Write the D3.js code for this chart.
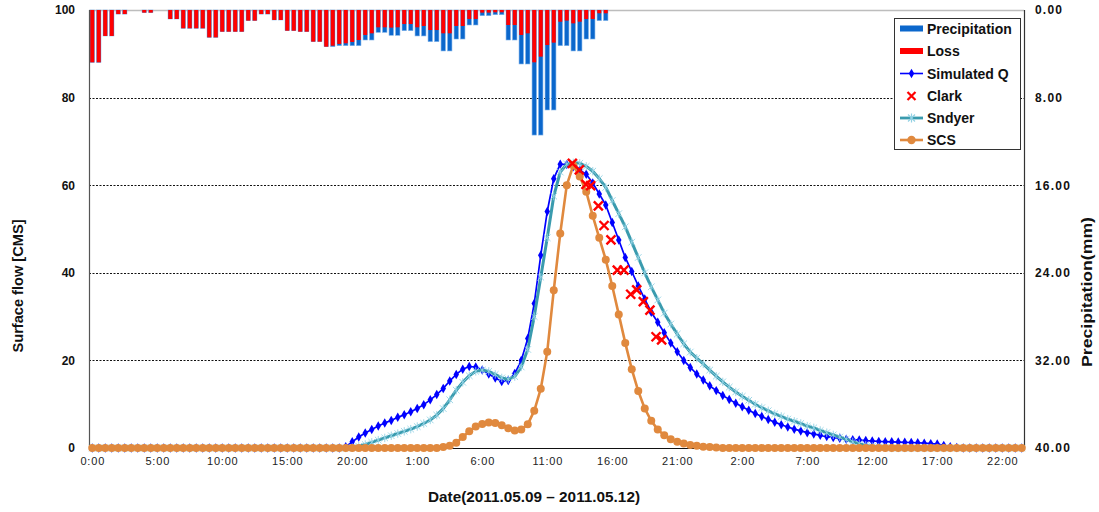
<!DOCTYPE html>
<html>
<head>
<meta charset="utf-8">
<script src="https://cdn.jsdelivr.net/npm/d3@7"></script>
<style>
  html, body { margin: 0; padding: 0; background: #ffffff; }
  svg { display: block; }
</style>
</head>
<body>
<svg id="chart" width="1099" height="512"></svg>
<script>
// ---------------- DATA ----------------
// half-hour steps starting 2011.05.09 0:00 (index i -> i*0.5 hours)
const tickHours = [0, 5, 10, 15, 20, 25, 30, 35, 40, 45, 50, 55, 60, 65, 70];
const tickLabels = ["0:00","5:00","10:00","15:00","20:00","1:00","6:00","11:00","16:00","21:00","2:00","7:00","12:00","17:00","22:00"];

// Precipitation (mm), per half hour (secondary axis, reversed)
const precipitation = [4.78,4.78,2.37,2.37,0.37,0.37,0,0,0.24,0.24,
  0,0,0.82,0.82,1.67,1.67,1.67,1.67,2.50,2.50,
  1.98,1.98,1.98,1.98,0.97,0.97,0.37,0.37,0.91,0.91,
  1.89,1.89,1.98,1.98,2.89,2.89,3.35,3.35,3.26,3.26,
  3.26,3.26,2.74,2.74,2.04,2.04,2.31,2.31,1.89,1.89,
  2.37,2.37,2.89,2.89,3.74,3.74,2.65,2.65,1.37,1.37,
  0.52,0.52,0.43,0.43,2.74,2.74,4.93,4.93,11.42,11.42,
  9.13,9.13,3.26,3.26,3.74,3.74,2.65,2.65,0.97,0.97];

// Loss (mm)
const loss = [4.78,4.78,2.37,2.37,0.37,0.37,0,0,0.24,0.24,
  0,0,0.82,0.82,1.67,1.67,1.67,1.67,2.50,2.50,
  1.98,1.98,1.98,1.98,0.97,0.97,0.37,0.37,0.91,0.91,
  1.89,1.89,1.98,1.98,2.89,2.89,3.35,3.26,3.10,3.04,
  2.92,2.74,2.28,2.13,1.58,1.58,1.61,1.58,1.28,1.28,
  1.58,1.46,1.83,1.83,2.13,2.13,1.46,1.46,0.82,0.82,
  0.24,0.24,0.21,0.21,1.37,1.37,2.28,2.13,4.78,4.26,
  3.20,2.98,1.07,0.97,1.22,1.07,0.82,0.82,0.30,0.30];

// Simulated Q (CMS), 144 half-hour values
const simulatedQ = [0,0,0,0,0,0,0,0,0,0,
  0,0,0,0,0,0,0,0,0,0,
  0,0,0,0,0,0,0,0,0,0,
  0,0,0,0,0,0,0,0,0,0.3,
  1.4,2.5,3.4,4.2,5.0,5.7,6.3,7.0,7.6,8.3,
  9.0,9.9,11.0,12.2,13.6,15.3,16.8,18.0,18.6,18.5,
  17.8,16.9,16.0,15.2,15.4,17.0,20.0,25.0,33.0,44.0,
  54.0,61.5,64.8,64.7,64.2,63.5,62.5,60.5,58.0,55.5,
  51.5,47.5,43.5,40.3,37.0,34.0,31.0,28.7,26.3,24.0,
  22.0,20.0,18.4,16.9,15.5,14.2,13.1,12.0,11.1,10.2,
  9.4,8.6,7.9,7.2,6.5,5.9,5.3,4.8,4.3,3.9,
  3.5,3.2,2.9,2.6,2.4,2.2,2.0,1.9,1.8,1.7,
  1.6,1.5,1.45,1.4,1.35,1.3,1.25,1.2,1.1,1.0,
  0.9,0.6,0.3,0.1,0,0,0,0,0,0,
  0,0,0,0];

// Clark (observed points, hours from start, CMS)
const clarkHours = [36.93,37.47,37.98,38.34,38.93,39.37,39.9,40.39,40.9,41.42,41.88,42.39,42.9,43.37,43.8];
const clarkQ = [65.0,63.5,60.2,59.9,55.3,50.8,47.5,40.6,40.6,35.1,36.1,33.4,31.5,25.4,24.7];

// Snyder (CMS)
const snyder = [0,0,0,0,0,0,0,0,0,0,
  0,0,0,0,0,0,0,0,0,0,
  0,0,0,0,0,0,0,0,0,0,
  0,0,0,0,0,0,0,0,0,0,
  0.1,0.4,0.8,1.3,1.8,2.3,2.8,3.3,3.8,4.3,
  4.9,5.6,6.4,7.5,9.0,11.0,13.2,15.0,16.5,17.5,
  17.8,17.5,16.8,16.0,15.7,16.3,18.5,22.5,30.0,39.0,
  48.0,57.5,63.0,64.8,65.1,65.0,64.3,63.2,61.5,59.5,
  56.5,53.5,50.5,47.0,43.5,40.0,36.8,33.8,30.8,28.3,
  26.0,23.8,21.9,20.5,19.2,17.8,16.4,15.1,13.9,12.8,
  11.8,10.9,10.0,9.2,8.5,7.8,7.2,6.6,6.1,5.6,
  5.0,4.6,4.0,3.5,3.0,2.5,2.0,1.4,1.0,0.6,
  0.35,0.2,0.1,0,0,0,0,0,0,0,
  0,0,0,0,0,0,0,0,0,0,
  0,0,0,0];

// SCS (CMS)
const scs = [0,0,0,0,0,0,0,0,0,0,
  0,0,0,0,0,0,0,0,0,0,
  0,0,0,0,0,0,0,0,0,0,
  0,0,0,0,0,0,0,0,0,0,
  0,0,0,0,0,0,0,0,0,0,
  0,0,0,0,0.2,0.5,1.2,2.5,3.8,4.9,
  5.5,5.8,5.7,5.2,4.5,4.0,4.2,5.4,8.5,13.5,
  22.0,36.0,49.0,60.0,64.5,62.0,58.5,53.0,48.0,43.0,
  37.0,30.5,24.0,18.0,13.0,9.0,6.2,4.2,2.9,2.0,
  1.4,1.0,0.7,0.5,0.3,0.2,0.1,0,0,0,
  0,0,0,0,0,0,0,0,0,0,
  0,0,0,0,0,0,0,0,0,0,
  0,0,0,0,0,0,0,0,0,0,
  0,0,0,0,0,0,0,0,0,0,
  0,0,0,0];

const flowTicks = [0, 20, 40, 60, 80, 100];
const precipTicks = [0, 8, 16, 24, 32, 40];
const gridTicks = [20, 40, 60, 80];

// ---------------- LAYOUT ----------------
const L = 89, R = 1024, T = 10, B = 448;
const svg = d3.select("#chart");

const x = d3.scaleLinear().domain([-0.25, 71.75]).range([L, R + 1]);
const yL = d3.scaleLinear().domain([0, 100]).range([B, T]);
const yR = d3.scaleLinear().domain([0, 40]).range([T, B]);
const hourOf = i => i * 0.5;

const C = {
  precip: "#0B67CC", precipEdge: "#7DB2EA", loss: "#FF0000",
  sim: "#0000FF", clark: "#FF0000", snyLine: "#3A9BAE", snyMark: "#93D2E4",
  scs: "#E0893E"
};

// frame
svg.append("line").attr("x1", L).attr("x2", R).attr("y1", T + 0.5).attr("y2", T + 0.5)
  .attr("stroke", "#bdbdbd").attr("stroke-width", 1.5);

// gridlines
svg.append("g").selectAll("line").data(gridTicks).join("line")
  .attr("x1", L).attr("x2", R)
  .attr("y1", d => Math.round(yL(d)) + 0.5).attr("y2", d => Math.round(yL(d)) + 0.5)
  .attr("stroke", "#111").attr("stroke-width", 1).attr("stroke-dasharray", "2,1.5");

// bars: precipitation (blue) under loss (red), hanging from top
const bw = 4.4;
svg.append("g").selectAll("rect").data(precipitation).join("rect")
  .attr("x", (d, i) => x(hourOf(i)) - bw / 2)
  .attr("y", yR(0))
  .attr("width", bw)
  .attr("height", d => yR(d) - yR(0))
  .attr("fill", C.precip).attr("stroke", C.precipEdge).attr("stroke-width", 0.6);
svg.append("g").selectAll("rect").data(loss).join("rect")
  .attr("x", (d, i) => x(hourOf(i)) - bw / 2 + 0.2)
  .attr("y", yR(0))
  .attr("width", bw - 0.4)
  .attr("height", d => yR(d) - yR(0))
  .attr("fill", C.loss);

// axes lines
svg.append("line").attr("x1", L + 0.5).attr("x2", L + 0.5).attr("y1", T).attr("y2", B)
  .attr("stroke", "#555").attr("stroke-width", 1.2);
svg.append("line").attr("x1", R + 0.5).attr("x2", R + 0.5).attr("y1", T).attr("y2", B)
  .attr("stroke", "#333").attr("stroke-width", 1.2);
svg.append("line").attr("x1", L).attr("x2", R).attr("y1", B + 0.5).attr("y2", B + 0.5)
  .attr("stroke", "#111").attr("stroke-width", 1.2);

// series lines
const lineGen = arr => d3.line().x((d, i) => x(hourOf(i))).y(d => yL(d))(arr);

// Simulated Q
const gSim = svg.append("g");
gSim.append("path").attr("d", lineGen(simulatedQ)).attr("fill", "none")
  .attr("stroke", C.sim).attr("stroke-width", 1.7);
gSim.selectAll("path.m").data(simulatedQ).join("path").attr("class", "m")
  .attr("transform", (d, i) => `translate(${x(hourOf(i))},${yL(d)})`)
  .attr("d", d3.symbol(d3.symbolDiamond, 26))
  .attr("fill", C.sim);

// Snyder
const gSny = svg.append("g");
gSny.append("path").attr("d", lineGen(snyder)).attr("fill", "none")
  .attr("stroke", C.snyLine).attr("stroke-width", 3);
gSny.selectAll("path.m").data(snyder).join("path").attr("class", "m")
  .attr("transform", (d, i) => `translate(${x(hourOf(i))},${yL(d)})`)
  .attr("d", "M-3.3,-3.3L3.3,3.3M-3.3,3.3L3.3,-3.3M0,-4.2L0,4.2")
  .attr("stroke", C.snyMark).attr("stroke-width", 0.9).attr("fill", "none");

// SCS
const gScs = svg.append("g");
gScs.append("path").attr("d", lineGen(scs)).attr("fill", "none")
  .attr("stroke", C.scs).attr("stroke-width", 2.6);
gScs.selectAll("circle").data(scs).join("circle")
  .attr("cx", (d, i) => x(hourOf(i))).attr("cy", d => yL(d)).attr("r", 4)
  .attr("fill", C.scs);

// Clark (markers only)
svg.append("g").selectAll("path").data(clarkQ).join("path")
  .attr("transform", (d, i) => `translate(${x(clarkHours[i])},${yL(d)})`)
  .attr("d", "M-4.5,-4.5L4.5,4.5M-4.5,4.5L4.5,-4.5")
  .attr("stroke", C.clark).attr("stroke-width", 2.4).attr("fill", "none");

// ---------------- AXES TEXT ----------------
const tickFont = "'Liberation Sans', Arial, sans-serif";

// left axis
const axL = svg.append("g").attr("transform", `translate(${L},0)`)
  .call(d3.axisLeft(yL).tickValues(flowTicks).tickSize(0).tickPadding(14).tickFormat(d3.format("d")));
axL.select(".domain").remove();
axL.selectAll("text").attr("font-family", tickFont).attr("font-size", 12)
  .attr("font-weight", "bold").attr("fill", "#111");

// right axis
const axR = svg.append("g").attr("transform", `translate(${R},0)`)
  .call(d3.axisRight(yR).tickValues(precipTicks).tickSize(0).tickPadding(11).tickFormat(d3.format(".2f")));
axR.select(".domain").remove();
axR.selectAll("text").attr("font-family", tickFont).attr("font-size", 12)
  .attr("font-weight", "bold").attr("fill", "#111").attr("letter-spacing", 1.2);

// bottom axis
const axB = svg.append("g").attr("transform", `translate(0,${B})`)
  .call(d3.axisBottom(x).tickValues(tickHours).tickSize(0).tickPadding(9)
    .tickFormat((d, i) => tickLabels[i]));
axB.select(".domain").remove();
axB.selectAll("text").attr("font-family", tickFont).attr("font-size", 11)
  .attr("fill", "#222").attr("letter-spacing", 0.8);

// axis titles
svg.append("text").attr("transform", "translate(23,286) rotate(-90)")
  .attr("text-anchor", "middle").attr("font-family", tickFont).attr("font-weight", "bold")
  .attr("font-size", 14.5).attr("fill", "#111")
  .attr("textLength", 133).attr("lengthAdjust", "spacingAndGlyphs")
  .text("Surface flow [CMS]");

svg.append("text").attr("transform", "translate(1092,292) rotate(-90)")
  .attr("text-anchor", "middle").attr("font-family", tickFont).attr("font-weight", "bold")
  .attr("font-size", 14.5).attr("fill", "#111")
  .attr("textLength", 150).attr("lengthAdjust", "spacingAndGlyphs")
  .text("Precipitation(mm)");

svg.append("text").attr("x", 534).attr("y", 502)
  .attr("text-anchor", "middle").attr("font-family", tickFont).attr("font-weight", "bold")
  .attr("font-size", 15).attr("fill", "#111")
  .attr("textLength", 212).attr("lengthAdjust", "spacingAndGlyphs")
  .text("Date(2011.05.09 \u2013 2011.05.12)");

// ---------------- LEGEND ----------------
const legendItems = ["Precipitation", "Loss", "Simulated Q", "Clark", "Sndyer", "SCS"];
const lg = svg.append("g");
lg.append("rect").attr("x", 894.5).attr("y", 18.5).attr("width", 126).attr("height", 131)
  .attr("fill", "#fff").attr("stroke", "#333").attr("stroke-width", 1);
const rowY = [28.5, 51, 73.5, 96, 118, 140];
const sx1 = 900, sx2 = 923, smid = 911.5;
legendItems.forEach((name, k) => {
  const yy = rowY[k];
  const g = lg.append("g");
  if (k === 0) g.append("rect").attr("x", sx1).attr("y", yy - 3).attr("width", sx2 - sx1).attr("height", 6).attr("fill", C.precip);
  if (k === 1) g.append("rect").attr("x", sx1).attr("y", yy - 3).attr("width", sx2 - sx1).attr("height", 6).attr("fill", C.loss);
  if (k === 2) {
    g.append("line").attr("x1", sx1).attr("x2", sx2).attr("y1", yy).attr("y2", yy).attr("stroke", C.sim).attr("stroke-width", 1.6);
    g.append("path").attr("transform", `translate(${smid},${yy})`).attr("d", d3.symbol(d3.symbolDiamond, 26)).attr("fill", C.sim);
  }
  if (k === 3) g.append("path").attr("transform", `translate(${smid},${yy})`)
      .attr("d", "M-4,-4L4,4M-4,4L4,-4").attr("stroke", C.clark).attr("stroke-width", 2.2);
  if (k === 4) {
    g.append("line").attr("x1", sx1).attr("x2", sx2).attr("y1", yy).attr("y2", yy).attr("stroke", C.snyLine).attr("stroke-width", 2.8);
    g.append("path").attr("transform", `translate(${smid},${yy})`)
      .attr("d", "M-3.5,-3.5L3.5,3.5M-3.5,3.5L3.5,-3.5M0,-4.5L0,4.5").attr("stroke", C.snyMark).attr("stroke-width", 1.2);
  }
  if (k === 5) {
    g.append("line").attr("x1", sx1).attr("x2", sx2).attr("y1", yy).attr("y2", yy).attr("stroke", C.scs).attr("stroke-width", 2.6);
    g.append("circle").attr("cx", smid).attr("cy", yy).attr("r", 4.2).attr("fill", C.scs);
  }
  g.append("text").attr("x", 927).attr("y", yy + 5).attr("font-family", tickFont)
    .attr("font-weight", "bold").attr("font-size", 14).attr("fill", "#111").text(name);
});
</script>
</body>
</html>
